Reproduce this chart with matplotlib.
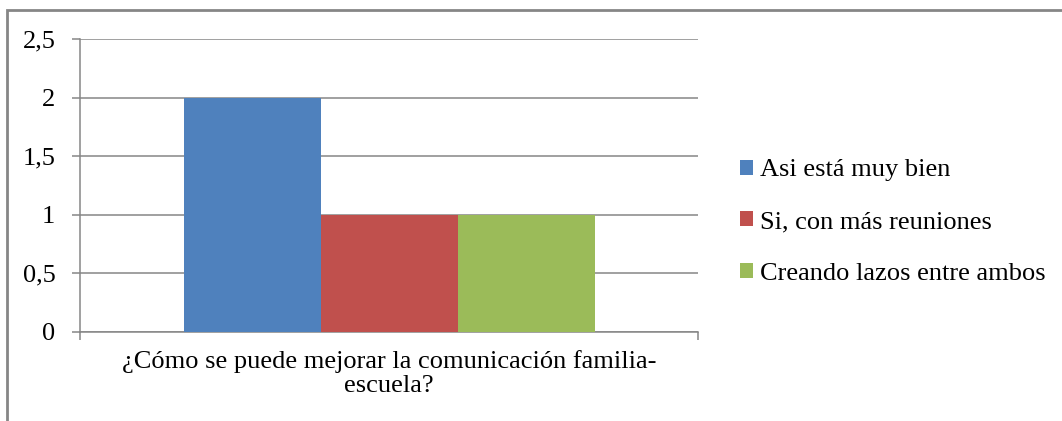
import numpy as np
import matplotlib.pyplot as plt
from matplotlib.patches import Rectangle

# datos
categoria = "¿Cómo se puede mejorar la comunicación familia-\nescuela?"
series = ["Asi está muy bien", "Si, con más reuniones", "Creando lazos entre ambos"]
valores = [2, 1, 1]
colores = ["#4F81BD", "#C0504D", "#9BBB59"]
yticks = [0, 0.5, 1, 1.5, 2, 2.5]
ytick_labels = ["0", "0,5", "1", "1,5", "2", "2,5"]

plt.rcParams['font.family'] = ['Liberation Serif', 'DejaVu Serif']
fs = 19

W, H = 1062, 421
fig = plt.figure(figsize=(W / 100, H / 100), dpi=100)
ax = fig.add_axes([80 / W, 1 - 332 / H, (698 - 80) / W, (332 - 39) / H])

ancho = 137 / 618
x0 = -1.5 * ancho
for i, (s, v, c) in enumerate(zip(series, valores, colores)):
    ax.bar(x0 + i * ancho, v, width=ancho, align='edge', color=c, label=s, zorder=3)

ax.set_xlim(-0.5, 0.5)
ax.set_ylim(0, 2.5)
ax.set_yticks(yticks)
ax.set_yticklabels(ytick_labels, fontsize=fs)
ax.set_xticks([-0.5, 0.5])
ax.set_xticklabels([])
ax.grid(axis='y', color='#868686', linewidth=1.1, zorder=0)
for side in ['top', 'right']:
    ax.spines[side].set_visible(False)
for side in ['left', 'bottom']:
    ax.spines[side].set_color('#868686')
    ax.spines[side].set_linewidth(1.1)
ax.tick_params(axis='y', length=5.8, width=1.1, color='#868686', pad=12)
ax.tick_params(axis='x', length=5.8, width=1.1, color='#868686', direction='out')
ax.text(0, -0.06, categoria, transform=ax.get_xaxis_transform(), ha='center', va='top',
        fontsize=fs, linespacing=1.15)

ax.legend(loc='center left', bbox_to_anchor=(740 / W, 1 - 222 / H), bbox_transform=fig.transFigure,
          frameon=False, fontsize=fs, handlelength=0.5, handleheight=0.5, handletextpad=0.25,
          labelspacing=1.12, borderaxespad=0, borderpad=0)

# borde del gráfico
fig.patches.append(Rectangle((7 / W, -0.1), 1.2, 1 - 10 / H + 0.1, transform=fig.transFigure,
                             fill=False, edgecolor='#868686', linewidth=2))

fig.savefig("out.png", dpi=100)
